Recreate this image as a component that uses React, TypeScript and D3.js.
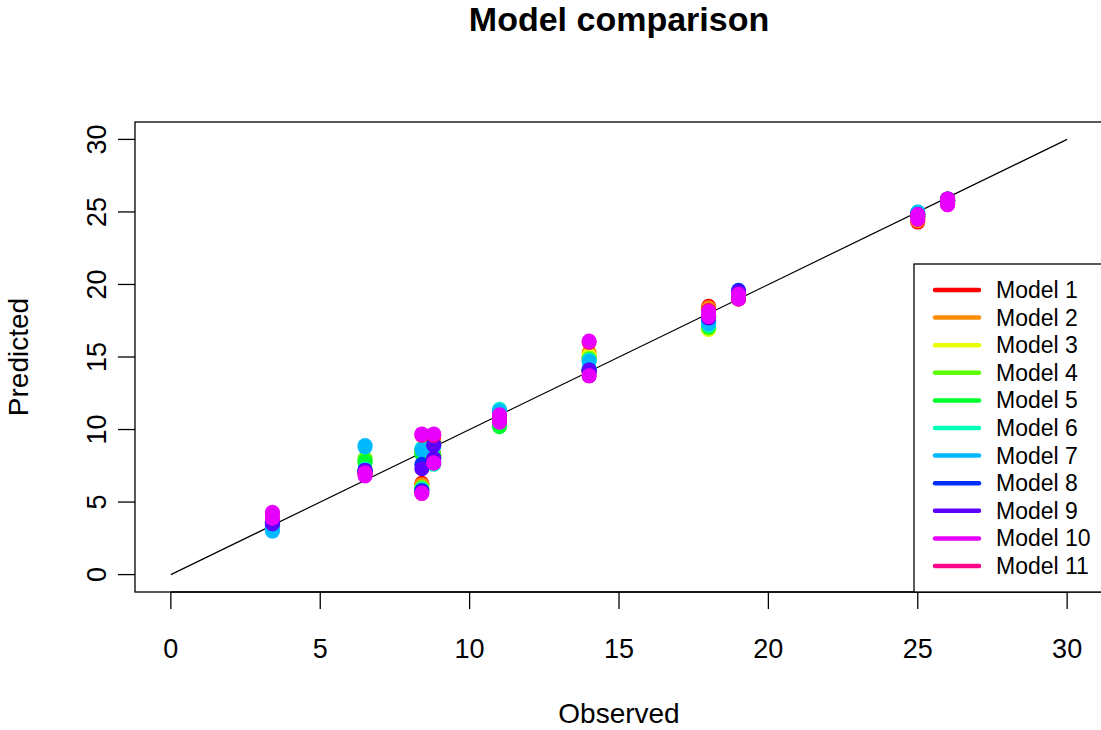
import React from "react";
import * as d3 from "d3";

const observed = [3.4, 3.4, 6.5, 6.5, 8.4, 8.4, 8.8, 8.8, 11, 11, 14, 14, 18, 18, 19, 19, 25, 25, 26, 26];

const model1 = [3.5, 3.4, 7.0, 7.1, 6.3, 8.5, 9.2, 8.3, 10.8, 10.6, 15.0, 14.0, 18.5, 18.3, 19.2, 19.0, 24.3, 24.6, 25.6, 25.8];
const model2 = [3.5, 3.4, 7.0, 7.0, 6.2, 8.5, 9.1, 8.2, 10.8, 10.6, 15.3, 14.0, 18.4, 18.2, 19.2, 19.0, 24.4, 24.6, 25.6, 25.8];
const model3 = [3.4, 3.3, 7.1, 7.0, 6.0, 8.4, 9.0, 8.2, 10.7, 10.5, 15.1, 14.1, 16.9, 17.0, 19.2, 19.1, 24.6, 24.7, 25.7, 25.8];
const model4 = [3.6, 3.5, 8.0, 7.9, 6.0, 8.5, 9.0, 8.1, 10.6, 10.4, 14.9, 14.1, 17.0, 17.2, 19.3, 19.1, 24.7, 24.8, 25.7, 25.8];
const model5 = [3.7, 3.6, 7.8, 7.7, 5.9, 8.3, 8.9, 8.2, 10.2, 10.4, 14.8, 14.1, 17.1, 17.3, 19.3, 19.1, 24.8, 24.9, 25.8, 25.9];
const model6 = [3.1, 3.2, 7.3, 7.2, 5.9, 8.7, 8.8, 7.6, 11.4, 11.2, 14.8, 14.2, 17.2, 17.4, 19.3, 19.2, 25.0, 24.9, 25.8, 25.9];
const model7 = [3.0, 3.1, 8.9, 8.8, 5.8, 8.6, 8.9, 7.8, 11.3, 11.1, 14.7, 14.1, 17.3, 17.5, 19.4, 19.3, 24.9, 25.0, 25.7, 25.8];
const model8 = [3.6, 3.5, 7.2, 7.1, 5.8, 7.6, 9.0, 8.0, 10.9, 10.7, 14.0, 14.1, 17.8, 17.7, 19.6, 19.4, 24.7, 24.8, 25.8, 25.9];
const model9 = [3.6, 3.5, 7.2, 7.1, 5.7, 7.3, 8.9, 8.0, 10.9, 10.7, 14.1, 14.0, 17.8, 17.7, 19.5, 19.4, 24.7, 24.8, 25.7, 25.8];
const model10 = [4.3, 3.9, 6.8, 7.0, 5.6, 9.7, 9.7, 7.7, 11.0, 10.5, 16.1, 13.7, 18.1, 17.8, 19.3, 19.0, 24.8, 24.5, 25.9, 25.5];
const model11 = [4.2, 3.9, 6.9, 7.0, 5.6, 9.6, 9.6, 7.7, 11.0, 10.6, 16.0, 13.7, 18.2, 17.9, 19.3, 19.0, 24.8, 24.5, 25.9, 25.5];

const modelNames = ["Model 1", "Model 2", "Model 3", "Model 4", "Model 5", "Model 6", "Model 7", "Model 8", "Model 9", "Model 10", "Model 11"];
const modelColors = ["#FF0000", "#FF8B00", "#E8FF00", "#5DFF00", "#00FF2E", "#00FFB9", "#00B9FF", "#002EFF", "#5D00FF", "#E800FF", "#FF008B"];
const modelValues = [model1, model2, model3, model4, model5, model6, model7, model8, model9, model10, model11];
// drawing order (model 10 ends on top)
const drawOrder = [0, 1, 2, 3, 4, 5, 6, 7, 8, 10, 9];

const ticks = [0, 5, 10, 15, 20, 25, 30];
const lineData = [0, 30];

const FONT = "'Liberation Sans', Arial, sans-serif";

export default function App() {
  const left = 135, right = 1103, top = 122, bottom = 592;
  const x = d3.scaleLinear().domain([-1.2, 31.2]).range([left, right]);
  const y = d3.scaleLinear().domain([-1.2, 31.2]).range([bottom, top]);
  const line = d3.line<number>().x((d) => x(d)).y((d) => y(d));

  const legX = 914, legY = 264, legH = 328;
  const rowY0 = 290, rowStep = 27.6;

  return (
    <svg width={1101} height={730} style={{ position: "absolute", left: 0, top: 0, background: "#fff" }} fontFamily={FONT}>
      <rect x={0} y={0} width={1101} height={730} fill="#fff" />
      <text x={(left + right) / 2} y={31} textAnchor="middle" fontSize={34} fontWeight="bold">Model comparison</text>

      {/* diagonal */}
      <path d={line(lineData) || ""} stroke="#000" strokeWidth={1.2} fill="none" />

      {/* points */}
      {drawOrder.map((m) => (
        <g key={m}>
          {modelValues[m].map((v, i) => (
            <circle key={i} cx={x(observed[i])} cy={y(v)} r={7.5} fill={modelColors[m]} />
          ))}
        </g>
      ))}

      {/* box */}
      <rect x={left} y={top} width={right - left} height={bottom - top} fill="none" stroke="#000" strokeWidth={1.3} />

      {/* x axis */}
      <line x1={x(0)} x2={x(30)} y1={bottom} y2={bottom} stroke="#000" strokeWidth={1.3} />
      {ticks.map((t) => (
        <g key={"x" + t}>
          <line x1={x(t)} x2={x(t)} y1={bottom} y2={bottom + 17} stroke="#000" strokeWidth={1.3} />
          <text x={x(t)} y={658} textAnchor="middle" fontSize={27}>{t}</text>
        </g>
      ))}
      {/* y axis */}
      {ticks.map((t) => (
        <g key={"y" + t}>
          <line x1={left - 17} x2={left} y1={y(t)} y2={y(t)} stroke="#000" strokeWidth={1.3} />
          <text transform={`translate(106, ${y(t)}) rotate(-90)`} textAnchor="middle" fontSize={27}>{t}</text>
        </g>
      ))}

      <text x={(left + right) / 2} y={723} textAnchor="middle" fontSize={28}>Observed</text>
      <text transform={`translate(28, ${(top + bottom) / 2}) rotate(-90)`} textAnchor="middle" fontSize={28}>Predicted</text>

      {/* legend */}
      <rect x={legX} y={legY} width={200} height={legH} fill="#fff" stroke="#000" strokeWidth={1.3} />
      {modelNames.map((n, i) => (
        <g key={n}>
          <line x1={935} x2={979} y1={rowY0 + i * rowStep} y2={rowY0 + i * rowStep} stroke={modelColors[i]} strokeWidth={4.5} strokeLinecap="round" />
          <text x={996} y={rowY0 + i * rowStep + 8} fontSize={23}>{n}</text>
        </g>
      ))}
    </svg>
  );
}
